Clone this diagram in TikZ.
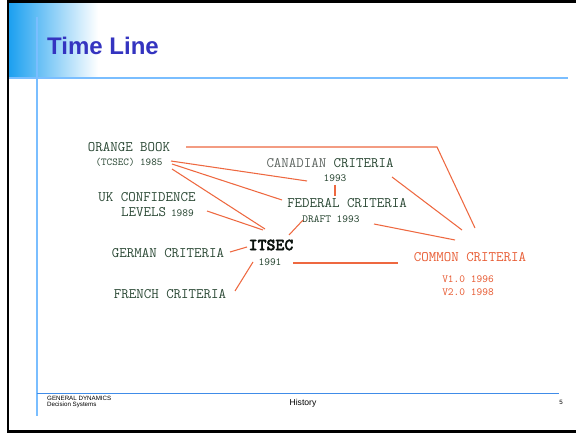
\documentclass[tikz,border=0pt]{standalone}
\usepackage{fontspec}
\usetikzlibrary{calc}
\newfontfamily\arialfam{Liberation Sans}
\newfontfamily\heavymono[AutoFakeBold=2.2]{lmmonolt10-bold.otf}
\definecolor{inkgreen}{RGB}{42,72,52}
\definecolor{inkgray}{RGB}{95,102,98}
\definecolor{linkred}{RGB}{238,104,64}
\definecolor{ccred}{RGB}{232,92,52}
\definecolor{titleblue}{RGB}{52,52,192}
\definecolor{rulelight}{RGB}{122,190,255}
\definecolor{ruledark}{RGB}{64,140,232}
\definecolor{shadeblue}{RGB}{28,160,240}
\newcommand{\fsz}[1]{\fontsize{#1}{#1}\selectfont}
\tikzset{
  lbl/.style={inner sep=0pt, text=inkgreen, font=\ttfamily\fsz{14.5}},
  yr/.style={inner sep=0pt, text=inkgreen, font=\ttfamily\fsz{10.9}},
  link/.style={draw=linkred, line width=1.05pt},
  foot/.style={inner sep=0pt, text=black, font=\arialfam\fsz{6.2}, align=left}
}
\begin{document}
\begin{tikzpicture}[x=1pt,y=-1pt]
\useasboundingbox (0,0) rectangle (576,433);
\fill[white] (0,0) rectangle (576,433);
% slide header shading and rules
\shade[left color=shadeblue, right color=white] (9,3) rectangle (98,77.5);
\draw[rulelight, line width=2pt] (8,78) -- (568,78);
\draw[rulelight, line width=1.6pt] (37,17) -- (37,416);
\draw[ruledark, line width=1pt] (37,393) -- (559,393);
% frame
\draw[black, line width=3pt] (8,1.5) -- (576,1.5);
\draw[black, line width=2.5pt] (8,0) -- (8,433);
\draw[black, line width=2.5pt] (8,431.5) -- (576,431.5);
% title
\node[anchor=base west, inner sep=0pt, text=titleblue, font=\arialfam\bfseries\fsz{24}] (title) at (47,55) {Time Line};
% footer
\node[foot, anchor=north west] (gd) at (47,396) {GENERAL DYNAMICS\\[-0.6pt]Decision Systems};
\node[inner sep=0pt, font=\arialfam\fsz{8.6}] (hist) at (303,403) {History};
\node[inner sep=0pt, font=\arialfam\fsz{6.2}] (pg) at (561,402) {5};
% timeline entries
\node[lbl] (ob) at (129,147) {ORANGE BOOK};
\node[yr, font=\ttfamily\fsz{10.6}] (obs) at (129,162) {(TCSEC) 1985};
\node[lbl] (can) at (330,163) {\textcolor{inkgray}{CANADIAN} CRITERIA};
\node[yr] (cany) at (335,178) {1993};
\node[lbl] (fed) at (347,203) {FEDERAL CRITERIA};
\node[yr] (fedy) at (331,219) {DRAFT 1993};
\node[lbl] (uk) at (147,197) {UK CONFIDENCE};
\node[lbl, anchor=west] (lev) at (121,212) {LEVELS\hspace{5pt}{\fsz{10.9}1989}};
\node[lbl] (ger) at (168,253) {GERMAN CRITERIA};
\node[lbl] (fre) at (170,294) {FRENCH CRITERIA};
\node[lbl, font=\heavymono\bfseries\fsz{17}, text=black!75!inkgreen] (its) at (271,245) {ITSEC};
\node[yr] (itsy) at (270,262) {1991};
\node[lbl, text=ccred] (cc) at (470,257) {COMMON CRITERIA};
\node[yr, text=ccred] (v1) at (468,279) {V1.0 1996};
\node[yr, text=ccred] (v2) at (468,292) {V2.0 1998};
% connectors
\draw[link] ($(ob)+(57,0)$) -- ($(cc)+(-33,-110)$) -- ($(cc)+(5,-29)$);
\draw[link] ($(obs)+(42,-1)$) -- ($(cany)+(-28,3)$);
\draw[link] ($(obs)+(43,2)$) -- ($(fed)+(-65,-3)$);
\draw[link] ($(obs)+(43,7)$) -- ($(its)+(-6,-16)$);
\draw[link] ($(uk)+(60,14)$) -- ($(its)+(-8,-15)$);
\draw[link] ($(ger)+(62,-1)$) -- ($(its)+(-24,2)$);
\draw[link] ($(fre)+(65,-3)$) -- ($(itsy)+(-17,0)$);
\draw[link] ($(fedy)+(-28,1)$) -- ($(its)+(18,-10)$);
\draw[link] ($(cany)+(0,7)$) -- ($(fed)+(-12,-7)$);
\draw[link] ($(can)+(62,14)$) -- ($(cc)+(-8,-27)$);
\draw[link] ($(fedy)+(43,5)$) -- ($(cc)+(-15,-17)$);
\draw[link] ($(itsy)+(23,1)$) -- ($(cc)+(-72,6)$);
\end{tikzpicture}
\end{document}
